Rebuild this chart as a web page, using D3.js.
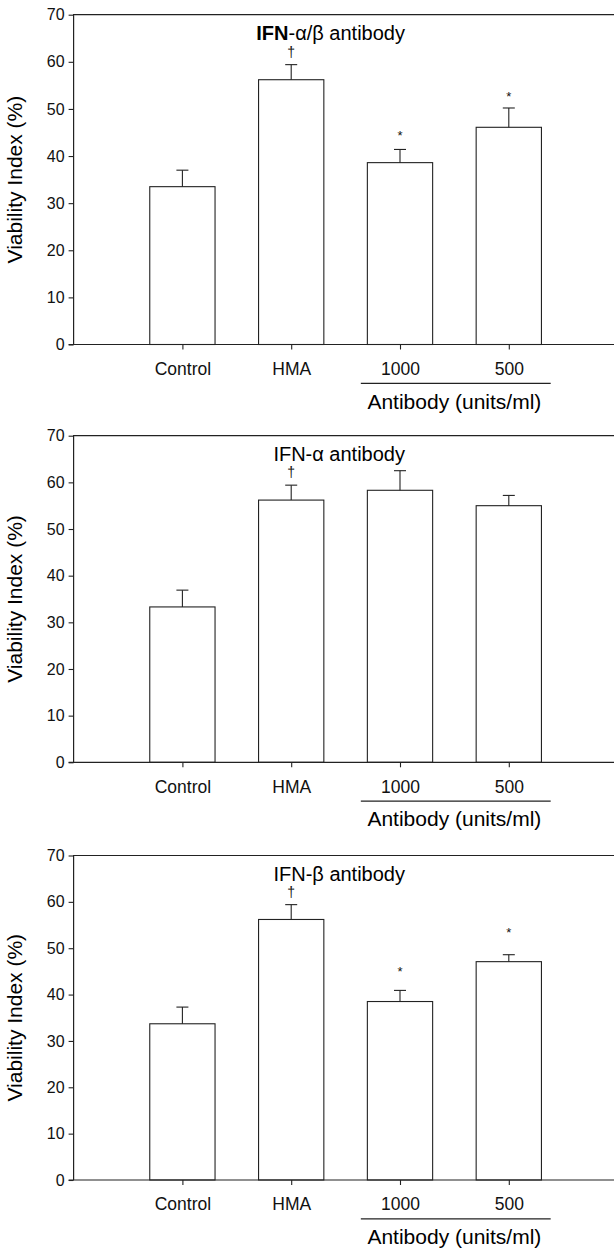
<!DOCTYPE html>
<html>
<head>
<meta charset="utf-8">
<script src="https://cdn.jsdelivr.net/npm/d3@7"></script>
<style>
  body { margin: 0; background: #fff; }
  svg { display: block; font-family: "Liberation Sans", Arial, sans-serif; }
  .frame { stroke: #222; stroke-width: 1.2; fill: none; }
  .bar { fill: #fff; stroke: #222; stroke-width: 1.1; }
  .err { stroke: #222; stroke-width: 1.1; }
  .mark { fill: #111; }
  .tick line { stroke: #222; stroke-width: 1.1; }
  .tick text { fill: #111; }
</style>
</head>
<body>
<svg width="614" height="1250"></svg>
<script>
const categories = ['Control', 'HMA', '1000', '500'];
const yTicks = [0, 10, 20, 30, 40, 50, 60, 70];
const xLabelGroup = 'Antibody (units/ml)';

// IFN-alpha/beta antibody panel
const abMeans = [33.5, 56.2, 38.6, 46.1];
const abErrTop = [37.0, 59.4, 41.4, 50.2];
const abMarks = ['', '†', '*', '*'];
const abMarkAt = [0, 61.8, 44.9, 53.3];

// IFN-alpha antibody panel
const aMeans = [33.3, 56.2, 58.3, 55.0];
const aErrTop = [36.9, 59.4, 62.5, 57.2];
const aMarks = ['', '†', '', ''];
const aMarkAt = [0, 61.9, 0, 0];

// IFN-beta antibody panel
const bMeans = [33.7, 56.2, 38.5, 47.1];
const bErrTop = [37.3, 59.4, 40.9, 48.6];
const bMarks = ['', '†', '*', '*'];
const bMarkAt = [0, 61.9, 45.7, 54.0];

const svg = d3.select('svg');

const panels = [
    {bold: 'IFN', rest: '-α/β antibody', means: abMeans, errs: abErrTop, marks: abMarks, markAt: abMarkAt, top: 14.7, bottom: 344.5},
    {bold: '', rest: 'IFN-α antibody', means: aMeans, errs: aErrTop, marks: aMarks, markAt: aMarkAt, top: 435.7, bottom: 762.3},
    {bold: '', rest: 'IFN-β antibody', means: bMeans, errs: bErrTop, marks: bMarks, markAt: bMarkAt, top: 855.5, bottom: 1180}
];

const xScale = d3.scaleLinear()
    .domain([0, 5])
    .range([73.6, 617.6]);

const barHalf = 0.3;
const capHalf = 6;

const render = p => {
    const yScale = d3.scaleLinear()
        .domain([0, 70])
        .range([p.bottom, p.top]);

    const g = svg.append('g');
    const data = categories.map((c, i) => ({
        cat: c, pos: i + 1, mean: p.means[i], err: p.errs[i], mark: p.marks[i], markAt: p.markAt[i]
    }));

    // bars
    g.selectAll('rect.bar').data(data).enter().append('rect')
        .attr('class', 'bar')
        .attr('x', d => xScale(d.pos - barHalf))
        .attr('width', d => xScale(d.pos + barHalf) - xScale(d.pos - barHalf))
        .attr('y', d => yScale(d.mean))
        .attr('height', d => yScale(0) - yScale(d.mean));

    // upper error bars
    g.selectAll('line.errv').data(data).enter().append('line')
        .attr('class', 'err')
        .attr('x1', d => xScale(d.pos)).attr('x2', d => xScale(d.pos))
        .attr('y1', d => yScale(d.mean)).attr('y2', d => yScale(d.err));
    g.selectAll('line.errc').data(data).enter().append('line')
        .attr('class', 'err')
        .attr('x1', d => xScale(d.pos) - capHalf).attr('x2', d => xScale(d.pos) + capHalf)
        .attr('y1', d => yScale(d.err)).attr('y2', d => yScale(d.err));

    // significance marks
    g.selectAll('text.mark').data(data.filter(d => d.mark)).enter().append('text')
        .attr('class', 'mark')
        .attr('x', d => xScale(d.pos))
        .attr('y', d => yScale(d.markAt) + (d.mark === '*' ? 7.5 : 4))
        .attr('text-anchor', 'middle')
        .attr('font-size', d => d.mark === '*' ? 13 : 14)
        .text(d => d.mark);

    // y axis
    const yAxis = d3.axisLeft(yScale)
        .tickValues(yTicks)
        .tickSize(5)
        .tickPadding(4);
    const yAxisG = g.append('g')
        .attr('transform', `translate(${xScale(0)}, 0)`)
        .call(yAxis);
    yAxisG.select('.domain').remove();
    yAxisG.selectAll('text').attr('font-size', 16).attr('font-family', null);

    // x axis
    const xAxis = d3.axisBottom(xScale)
        .tickValues([1, 2, 3, 4])
        .tickSize(5)
        .tickPadding(13)
        .tickFormat(v => categories[v - 1]);
    const xAxisG = g.append('g')
        .attr('transform', `translate(0, ${p.bottom})`)
        .call(xAxis);
    xAxisG.select('.domain').remove();
    xAxisG.selectAll('text').attr('font-size', 17.5).attr('font-family', null);

    // frame: bottom, left, top (right edge lies outside the picture)
    g.append('path')
        .attr('class', 'frame')
        .attr('d', `M${xScale(5)},${p.bottom}H${xScale(0) - 5}M${xScale(0)},${p.bottom}V${p.top}H${xScale(5)}`);

    // grouping underline and label
    g.append('line')
        .attr('class', 'frame')
        .attr('x1', xScale(2.64)).attr('x2', xScale(4.385))
        .attr('y1', p.bottom + 38.8).attr('y2', p.bottom + 38.8);
    g.append('text')
        .attr('x', xScale(3.5))
        .attr('y', p.bottom + 64)
        .attr('text-anchor', 'middle')
        .attr('font-size', 21)
        .text(xLabelGroup);

    // y axis title
    g.append('text')
        .attr('transform', `translate(22, ${(p.top + p.bottom) / 2}) rotate(-90)`)
        .attr('text-anchor', 'middle')
        .attr('font-size', 21)
        .text('Viability Index (%)');

    // panel title
    const t = g.append('text')
        .attr('x', 405)
        .attr('y', p.top + 25)
        .attr('text-anchor', 'end')
        .attr('font-size', 20);
    if (p.bold) t.append('tspan').attr('font-weight', 'bold').text(p.bold);
    t.append('tspan').text(p.rest);
};

panels.forEach(render);
</script>
</body>
</html>
